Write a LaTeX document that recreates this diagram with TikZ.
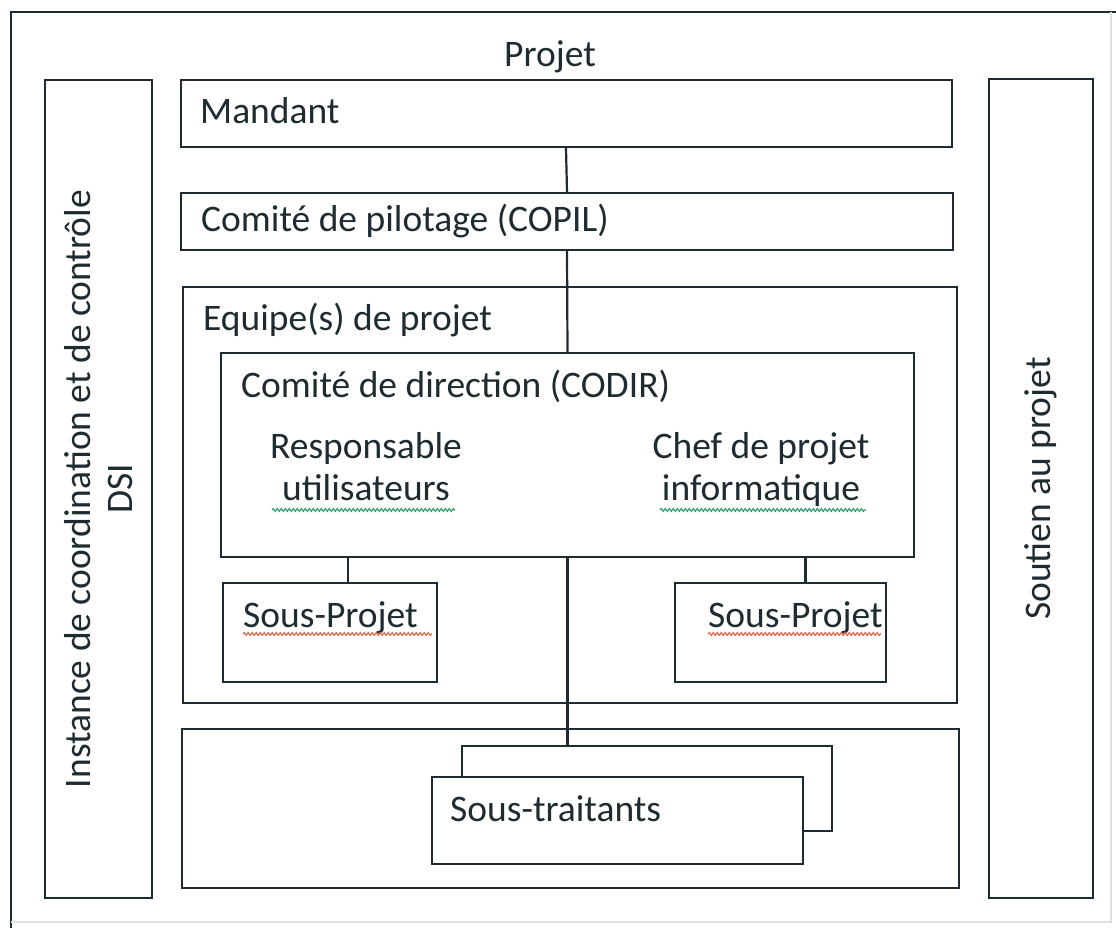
\documentclass[tikz,border=0pt]{standalone}
\usepackage{fontspec}
\setmainfont{Carlito}
\usetikzlibrary{decorations.pathmorphing}
\definecolor{ink}{HTML}{1E2B30}
\definecolor{wavegreen}{HTML}{2E9E6E}
\definecolor{wavered}{HTML}{E06A4A}
\begin{document}
\begin{tikzpicture}[x=1pt,y=-1pt,
  box/.style={draw=ink, line width=2pt, fill=white, inner sep=0pt},
  lbl/.style={inner sep=0pt, text=ink, font=\fontsize{37.5}{42}\selectfont},
  conn/.style={draw=ink, line width=2.2pt},
  wavy/.style={line width=1.2pt, decorate, decoration={snake, amplitude=1.4pt, segment length=4pt}}]
\useasboundingbox (0,0) rectangle (1116,928);
% outer frame
\draw[draw=ink, line width=2pt] (11,935) -- (11,12) -- (1125,12);
\draw[draw=black!12, line width=1.5pt] (1111,12) -- (1111,922) -- (11,922);
\node[lbl, anchor=base] (projet) at (550,67) {Projet};
% side columns
\node[box, minimum width=107pt, minimum height=818pt] (left) at (98.5,489) {};
\node[lbl, rotate=90, align=center] (lefttxt) at (left.center) {Instance de coordination et de contrôle\\DSI};
\node[box, minimum width=104pt, minimum height=819pt] (right) at (1041,488.5) {};
\node[lbl, rotate=90] (righttxt) at (right.center) {Soutien au projet};
% mandant
\node[box, minimum width=771pt, minimum height=67pt] (mandant) at (566,113.5) {};
\node[lbl, anchor=base west] (mandanttxt) at (200,124) {Mandant};
% copil
\node[box, minimum width=772pt, minimum height=57pt] (copil) at (567,221.5) {};
\node[lbl, anchor=base west] (copiltxt) at (201,232) {Comité de pilotage (COPIL)};
% equipe
\node[box, minimum width=774pt, minimum height=416pt] (equipe) at (570,495) {};
\node[lbl, anchor=base west] (equipetxt) at (203,330) {Equipe(s) de projet};
% bottom box
\node[box, minimum width=777pt, minimum height=159pt] (bottom) at (570.5,808.5) {};
% connectors
\draw[conn] (mandant.south) -- (copil.north);
% codir
\node[box, minimum width=693pt, minimum height=204pt] (codir) at (567.5,455) {};
\node[lbl, anchor=base west] (codirtxt) at (241,397) {Comité de direction (CODIR)};
\node[lbl, align=center, anchor=north] (resp) at (366,432) {Responsable\\utilisateurs};
\node[lbl, align=center, anchor=north] (chef) at (761,432) {Chef de projet\\informatique};
\draw[conn] (copil.south) -- (codir.north);
% sous-projets
\node[box, minimum width=214pt, minimum height=99pt] (sp1) at (330,632.5) {};
\node[lbl, anchor=base west] (sp1txt) at (243,627) {Sous-Projet};
\node[box, minimum width=211pt, minimum height=99pt] (sp2) at (780.5,632.5) {};
\node[lbl, anchor=base west] (sp2txt) at (708,627) {Sous-Projet};
\draw[conn] ([xshift=18pt]sp1.north) -- ([xshift=18pt]sp1.north |- codir.south);
\draw[conn] ([xshift=25pt]sp2.north) -- ([xshift=25pt]sp2.north |- codir.south);
% sous-traitants
\node[box, minimum width=370pt, minimum height=85pt] (back) at (647,788.5) {};
\node[box, minimum width=371pt, minimum height=87pt] (front) at (617.5,820.5) {};
\node[lbl, anchor=base west] (sttxt) at (450,821) {Sous-traitants};
\draw[conn] (codir.south) -- (codir.south |- back.north);
% spell-check underlines
\draw[wavy, wavegreen] (272,510) -- (455,510);
\draw[wavy, wavegreen] (660,510) -- (866,510);
\draw[wavy, wavered] (243,634) -- (432,634);
\draw[wavy, wavered] (708,634) -- (881,634);
\end{tikzpicture}
\end{document}
